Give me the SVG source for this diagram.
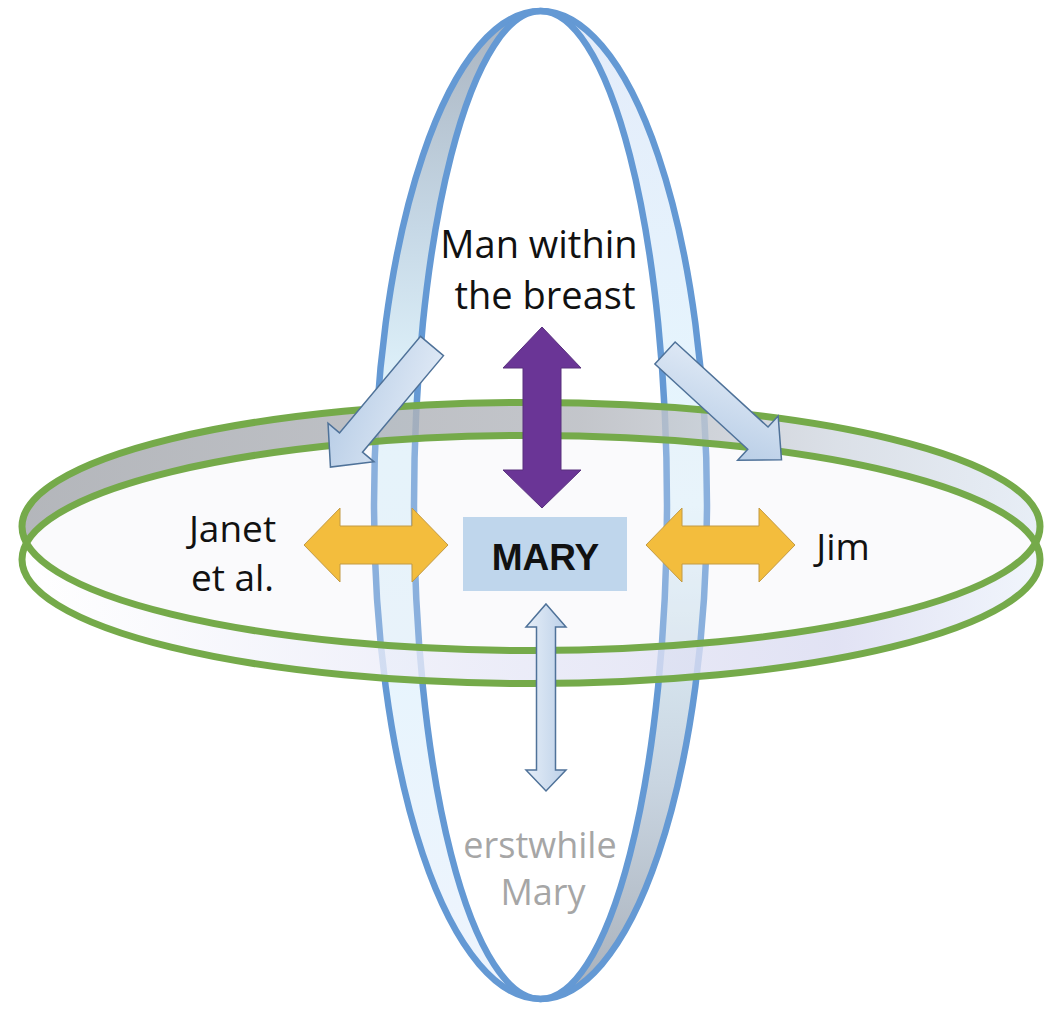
<svg xmlns="http://www.w3.org/2000/svg" width="1051" height="1011" viewBox="0 0 1051 1011">
  <defs>
    <linearGradient id="gL" gradientUnits="userSpaceOnUse" x1="0" y1="10" x2="0" y2="1000">
      <stop offset="0" stop-color="#a9b3bf"/>
      <stop offset="0.22" stop-color="#c6d8e6"/>
      <stop offset="0.4" stop-color="#e2f5fd"/>
      <stop offset="1" stop-color="#eef4fd"/>
    </linearGradient>
    <linearGradient id="gR" gradientUnits="userSpaceOnUse" x1="0" y1="10" x2="0" y2="1000">
      <stop offset="0" stop-color="#e4ecfa"/>
      <stop offset="0.5" stop-color="#e6f7fe"/>
      <stop offset="0.78" stop-color="#c9d5e1"/>
      <stop offset="1" stop-color="#a8b0ba"/>
    </linearGradient>
    <linearGradient id="gU" gradientUnits="userSpaceOnUse" x1="20" y1="0" x2="1040" y2="0">
      <stop offset="0" stop-color="#a3a6ac"/>
      <stop offset="0.55" stop-color="#b6b9bf"/>
      <stop offset="0.8" stop-color="#d3d9e2"/>
      <stop offset="1" stop-color="#e2eaf4"/>
    </linearGradient>
    <linearGradient id="gD" gradientUnits="userSpaceOnUse" x1="20" y1="0" x2="1040" y2="0">
      <stop offset="0" stop-color="#ffffff"/>
      <stop offset="0.45" stop-color="#e8e9f7"/>
      <stop offset="0.8" stop-color="#dadbf1"/>
      <stop offset="1" stop-color="#edf3fb"/>
    </linearGradient>
    <linearGradient id="gArrow" x1="0" y1="0" x2="1" y2="1">
      <stop offset="0" stop-color="#e3ecf7"/>
      <stop offset="1" stop-color="#b5cbe5"/>
    </linearGradient>
    <linearGradient id="gArrowV" x1="0" y1="0" x2="1" y2="0">
      <stop offset="0" stop-color="#e6eef8"/>
      <stop offset="1" stop-color="#bcd0e8"/>
    </linearGradient>
    <clipPath id="clipLeft"><rect x="0" y="0" width="540.5" height="1011"/></clipPath>
    <clipPath id="clipRight"><rect x="540.5" y="0" width="511" height="1011"/></clipPath>
    <clipPath id="clipTop"><rect x="0" y="0" width="1051" height="543"/></clipPath>
    <clipPath id="clipBottom"><rect x="0" y="543" width="1051" height="468"/></clipPath>
    <clipPath id="clipE1"><path d="M22,526.5 a509,124 0 1,0 1018,0 a509,124 0 1,0 -1018,0 Z"/></clipPath>
  </defs>
  <style>
    .blue { fill: none; stroke: #6499d4; stroke-width: 6.5; }
    .green { fill: none; stroke: #75aa4a; stroke-width: 7; }
    .txt { font-family: "Open Sans", "Liberation Sans", sans-serif; font-size: 38px; fill: #111; text-anchor: middle; }
    .ghost { font-family: "Open Sans", "Liberation Sans", sans-serif; font-size: 36px; fill: #a6a6a6; text-anchor: middle; }
    .lb { fill: url(#gArrow); stroke: #4f7299; stroke-width: 1.5; }
    .yel { fill: #f3bd3d; stroke: #c29a45; stroke-width: 1; }
  </style>

  <rect x="0" y="0" width="1051" height="1011" fill="#ffffff"/>

  <g id="ring-vertical">
    <path clip-path="url(#clipLeft)" fill="url(#gL)" fill-rule="evenodd" d="M374,505 a166.5,494 0 1,0 333,0 a166.5,494 0 1,0 -333,0 Z M414,505 a126.5,494 0 1,0 253,0 a126.5,494 0 1,0 -253,0 Z"/>
    <path clip-path="url(#clipRight)" fill="url(#gR)" fill-rule="evenodd" d="M374,505 a166.5,494 0 1,0 333,0 a166.5,494 0 1,0 -333,0 Z M414,505 a126.5,494 0 1,0 253,0 a126.5,494 0 1,0 -253,0 Z"/>
    <ellipse class="blue" cx="540.5" cy="505" rx="166.5" ry="494"/>
    <ellipse class="blue" cx="540.5" cy="505" rx="126.5" ry="494"/>
  </g>

  <g id="ring-horizontal">
    <path clip-path="url(#clipTop)" fill="url(#gU)" fill-opacity="0.82" fill-rule="evenodd" d="M22,526.5 a509,124 0 1,0 1018,0 a509,124 0 1,0 -1018,0 Z M22,559.5 a509,124 0 1,0 1018,0 a509,124 0 1,0 -1018,0 Z"/>
    <path clip-path="url(#clipBottom)" fill="url(#gD)" fill-opacity="0.8" fill-rule="evenodd" d="M22,526.5 a509,124 0 1,0 1018,0 a509,124 0 1,0 -1018,0 Z M22,559.5 a509,124 0 1,0 1018,0 a509,124 0 1,0 -1018,0 Z"/>
    <path clip-path="url(#clipE1)" fill="#ececf6" fill-opacity="0.28" d="M22,559.5 a509,124 0 1,0 1018,0 a509,124 0 1,0 -1018,0 Z"/>
    <ellipse class="green" cx="531" cy="526.5" rx="509" ry="124"/>
    <ellipse class="green" cx="531" cy="559.5" rx="509" ry="124"/>
  </g>

  <g id="connectors">
    <polygon id="arrow-man-mary" fill="#6a3596" stroke="#58307d" stroke-width="1" points="542,327 581,368 561,368 561,470 581,470 542,508 503,470 523,470 523,368 503,368"/>
    <polygon id="arrow-man-janet" class="lb" transform="translate(432,346) rotate(130)" points="0,-15 126,-15 126,-30 158,0 126,30 126,15 0,15"/>
    <polygon id="arrow-man-jim" class="lb" transform="translate(665,353) rotate(42.5)" points="0,-15 126,-15 126,-30 158,0 126,30 126,15 0,15"/>
    <polygon id="arrow-janet-mary" class="yel" points="304,545 340,508 340,526 412,526 412,508 448,545 412,582 412,564 340,564 340,582"/>
    <polygon id="arrow-mary-jim" class="yel" points="646,545 682,508 682,526 759,526 759,508 795,545 759,582 759,564 682,564 682,582"/>
    <polygon id="arrow-mary-erstwhile" fill="url(#gArrowV)" stroke="#4f7299" stroke-width="1.5" points="546,604 566,627 555.5,627 555.5,770 566,770 546,791 526,770 536.5,770 536.5,627 526,627"/>
  </g>

  <g id="node-mary">
    <rect x="463" y="517" width="164" height="74" fill="#bfd6ec"/>
    <text x="545.5" y="570" font-family="'Liberation Sans', Arial, sans-serif" font-size="37" font-weight="bold" fill="#111" text-anchor="middle">MARY</text>
  </g>

  <g id="node-man">
    <text class="txt" x="539" y="258">Man within</text>
    <text class="txt" x="545" y="309">the breast</text>
  </g>

  <g id="node-janet">
    <text class="txt" x="232.5" y="542" style="font-size:37px">Janet</text>
    <text class="txt" x="232.5" y="591" style="font-size:37px">et al.</text>
  </g>

  <g id="node-jim">
    <text class="txt" x="843" y="560" style="font-size:37px">Jim</text>
  </g>

  <g id="node-erstwhile">
    <text class="ghost" x="540" y="858">erstwhile</text>
    <text class="ghost" x="543" y="905">Mary</text>
  </g>
</svg>
